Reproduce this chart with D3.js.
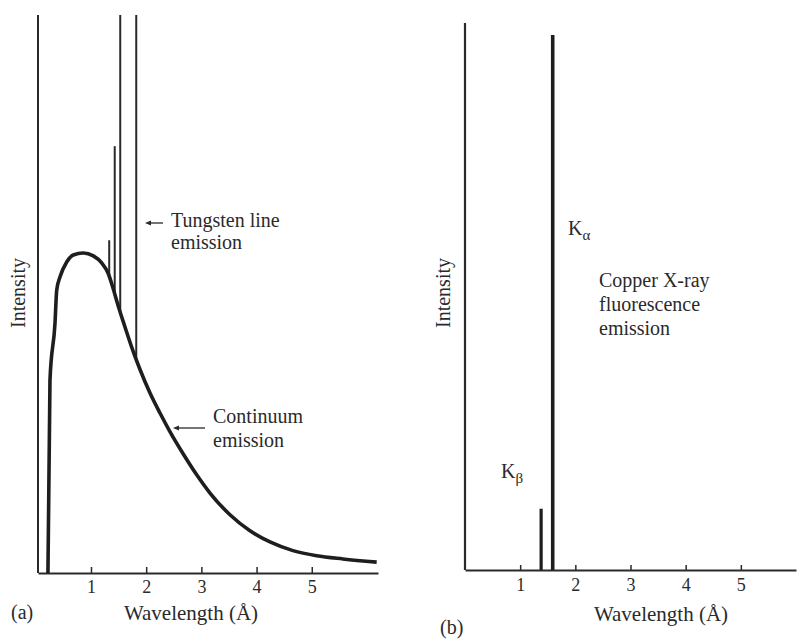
<!DOCTYPE html>
<html>
<head>
<meta charset="utf-8">
<script src="https://cdn.jsdelivr.net/npm/d3@7"></script>
<style>
  body { margin: 0; background: #fff; }
  text { font-family: "Liberation Serif", "Times New Roman", serif; fill: #2a2a2a; }
</style>
</head>
<body>
<script>
// panel (a): tungsten tube spectrum
var contWl = [0.22, 0.257, 0.348, 0.379, 0.438, 0.56, 0.679, 0.86, 1.042, 1.194, 1.313, 1.404, 1.495, 1.616, 1.737, 1.888, 2.069, 2.25, 2.43, 2.672, 2.915, 3.156, 3.518, 3.88, 4.243, 4.659, 5.089, 5.565, 6.176];
var contI  = [0, 60.3, 78.1, 88.4, 92.5, 97.2, 99.4, 100, 99.1, 96.9, 93.6, 88.75, 83.4, 76.9, 70.6, 63.6, 56.25, 50.0, 44.2, 37.2, 30.7, 25.0, 18.2, 13.2, 9.7, 7.0, 5.4, 4.4, 3.4];
var wLineWl = [1.33, 1.43, 1.53, 1.82];
var wLineI  = [104, 133.4, 174.4, 174.4];

// panel (b): copper fluorescence
var cuNames = ["β", "α"];
var cuWl = [1.38, 1.59];
var cuI  = [11.2, 97.8];

var tickVals = [1, 2, 3, 4, 5];

var W = 797, H = 644;
var ink = "#2a2a2a";

var svg = d3.select("body").append("svg")
    .attr("width", W)
    .attr("height", H);

function styleAxis(g, w) {
    g.select(".domain").attr("stroke", ink).attr("stroke-width", w);
    g.selectAll(".tick line").attr("stroke", ink).attr("stroke-width", 1.5);
    g.selectAll(".tick text").attr("font-size", 18).attr("fill", ink)
        .attr("font-family", "Liberation Serif");
}

// ---------- panel (a) ----------
var xa = d3.scaleLinear().domain([0.04, 6.2]).range([38, 378]);
var ya = d3.scaleLinear().domain([0, 174.4]).range([573, 15]);

var ga = svg.append("g");

ga.append("g")
    .attr("transform", "translate(0," + ya(0) + ")")
    .call(d3.axisBottom(xa).tickValues(tickVals).tickSize(-6).tickPadding(7).tickSizeOuter(0).tickFormat(d3.format("d")))
    .call(styleAxis, 2);

// y axis line
ga.append("line")
    .attr("x1", xa(0.04)).attr("x2", xa(0.04))
    .attr("y1", ya(0)).attr("y2", ya(174.4))
    .attr("stroke", ink).attr("stroke-width", 2);

var contPts = contWl.map(function(d, i) { return [d, contI[i]]; });

var contAt = function(w) {
    var i = d3.bisectRight(contWl, w);
    var t = (w - contWl[i - 1]) / (contWl[i] - contWl[i - 1]);
    return contI[i - 1] + t * (contI[i] - contI[i - 1]);
};

ga.selectAll(".wline")
    .data(wLineWl)
    .enter()
    .append("line")
    .attr("class", "wline")
    .attr("x1", function(d) { return xa(d); })
    .attr("x2", function(d) { return xa(d); })
    .attr("y1", function(d) { return ya(contAt(d)); })
    .attr("y2", function(d, i) { return ya(wLineI[i]); })
    .attr("stroke", ink)
    .attr("stroke-width", 2);

ga.append("path")
    .datum(contPts)
    .attr("fill", "none")
    .attr("stroke", "#1e1e1e")
    .attr("stroke-width", 3.6)
    .attr("stroke-linejoin", "round")
    .attr("d", d3.line()
        .x(function(d) { return xa(d[0]); })
        .y(function(d) { return ya(d[1]); })
        .curve(d3.curveMonotoneX));

// arrows
function arrow(g, x1, x2, y) {
    g.append("line")
        .attr("x1", x1 + 3).attr("x2", x2)
        .attr("y1", y).attr("y2", y)
        .attr("stroke", ink).attr("stroke-width", 1.3);
    g.append("path")
        .attr("d", "M" + x1 + "," + y + "l6,-2.5l0,5z")
        .attr("fill", ink);
}
arrow(ga, 145, 163, 223);
arrow(ga, 173, 205, 428);

ga.append("text").attr("x", 171).attr("y", 227).attr("font-size", 20).text("Tungsten line");
ga.append("text").attr("x", 171).attr("y", 249).attr("font-size", 20).text("emission");
ga.append("text").attr("x", 213).attr("y", 423).attr("font-size", 20).text("Continuum");
ga.append("text").attr("x", 213).attr("y", 447).attr("font-size", 20).text("emission");

ga.append("text")
    .attr("transform", "translate(25,293) rotate(-90)")
    .attr("text-anchor", "middle")
    .attr("font-size", 20)
    .text("Intensity");

ga.append("text").attr("x", 191).attr("y", 620).attr("text-anchor", "middle")
    .attr("font-size", 21).text("Wavelength (Å)");
ga.append("text").attr("x", 11).attr("y", 619).attr("font-size", 20).text("(a)");

// ---------- panel (b) ----------
var xb = d3.scaleLinear().domain([0, 6.0]).range([465, 796]);
var yb = d3.scaleLinear().domain([0, 100]).range([570, 23]);

var gb = svg.append("g");

gb.append("g")
    .attr("transform", "translate(0," + yb(0) + ")")
    .call(d3.axisBottom(xb).tickValues(tickVals).tickSize(-5).tickPadding(8).tickSizeOuter(0).tickFormat(d3.format("d")))
    .call(styleAxis, 2.2);

gb.append("line")
    .attr("x1", xb(0)).attr("x2", xb(0))
    .attr("y1", yb(0)).attr("y2", yb(100))
    .attr("stroke", ink).attr("stroke-width", 2.2);

gb.selectAll(".cuLine")
    .data(cuWl)
    .enter()
    .append("line")
    .attr("class", "cuLine")
    .attr("x1", function(d) { return xb(d); })
    .attr("x2", function(d) { return xb(d); })
    .attr("y1", yb(0))
    .attr("y2", function(d, i) { return yb(cuI[i]); })
    .attr("stroke", "#1e1e1e")
    .attr("stroke-width", function(d, i) { return i === 1 ? 3.6 : 3.2; });

// K labels
var kPos = [[501, 478], [568, 235]];
cuNames.forEach(function(n, i) {
    var t = gb.append("text")
        .attr("x", kPos[i][0]).attr("y", kPos[i][1])
        .attr("font-size", 20);
    t.append("tspan").text("K");
    t.append("tspan").attr("dy", 5).attr("font-size", 15).text(n);
});

gb.append("text").attr("x", 599).attr("y", 287).attr("font-size", 20).text("Copper X-ray");
gb.append("text").attr("x", 599).attr("y", 311).attr("font-size", 20).text("fluorescence");
gb.append("text").attr("x", 599).attr("y", 335).attr("font-size", 20).text("emission");

gb.append("text")
    .attr("transform", "translate(450,293) rotate(-90)")
    .attr("text-anchor", "middle")
    .attr("font-size", 20)
    .text("Intensity");

gb.append("text").attr("x", 661).attr("y", 621).attr("text-anchor", "middle")
    .attr("font-size", 21).text("Wavelength (Å)");
gb.append("text").attr("x", 440).attr("y", 634).attr("font-size", 20).text("(b)");
</script>
</body>
</html>
